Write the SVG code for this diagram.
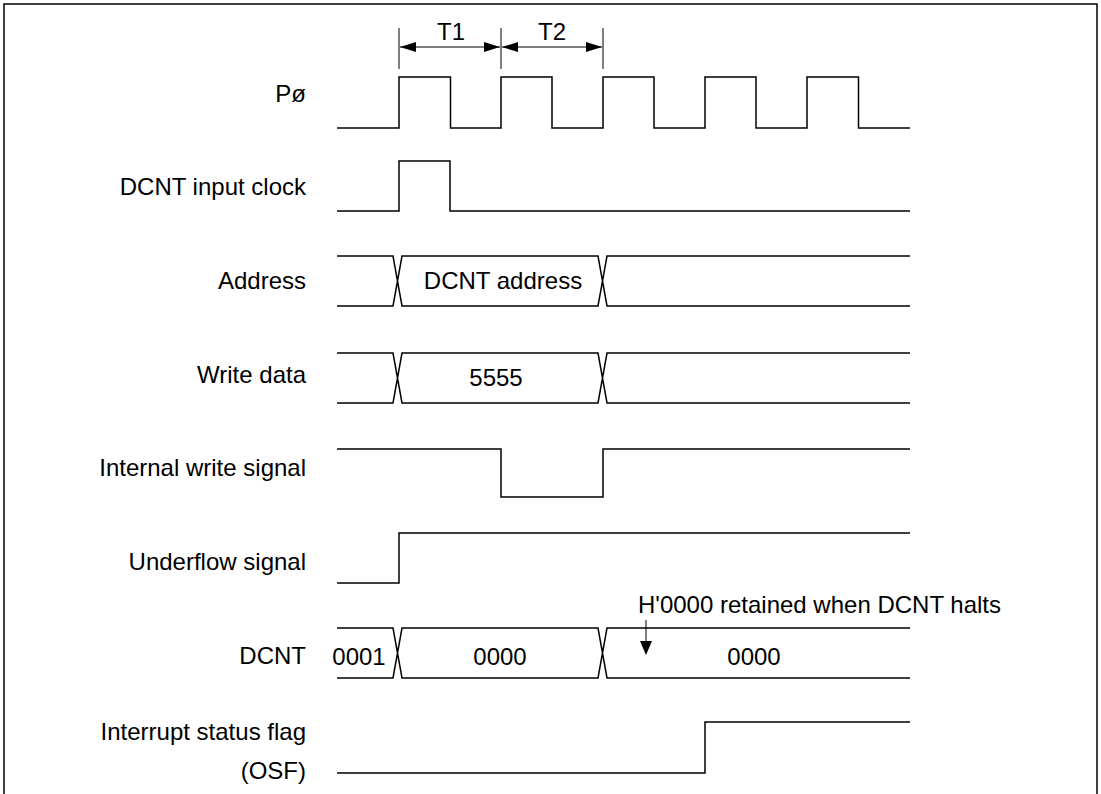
<svg xmlns="http://www.w3.org/2000/svg" width="1101" height="794" viewBox="0 0 1101 794">
<defs>
<style>
.w{fill:none;stroke:#000;stroke-width:1.5;stroke-linejoin:miter}
.t{font-family:"Liberation Sans",Arial,sans-serif;font-size:24px;fill:#000}
.l{text-anchor:end}
.c{text-anchor:middle}
.d{fill:none;stroke:#000;stroke-width:1}
</style>
<marker id="ah" viewBox="0 0 16 10" refX="16" refY="5" markerWidth="16" markerHeight="10" markerUnits="userSpaceOnUse" orient="auto-start-reverse"><path d="M0,0 L16,5 L0,10 Z" fill="#000"/></marker>
</defs>
<rect width="1101" height="794" fill="#fff"/>
<path d="M4,794 V4 H1097 V794" fill="none" stroke="#000" stroke-width="1.5"/>

<g id="timing">
<line class="d" x1="399" y1="28" x2="399" y2="69"/>
<line class="d" x1="501" y1="28" x2="501" y2="69"/>
<line class="d" x1="603" y1="28" x2="603" y2="69"/>
<line class="d" x1="400" y1="47" x2="500" y2="47" marker-start="url(#ah)" marker-end="url(#ah)"/>
<line class="d" x1="502" y1="47" x2="602" y2="47" marker-start="url(#ah)" marker-end="url(#ah)"/>
<text class="t c" x="451" y="40">T1</text>
<text class="t c" x="552" y="40">T2</text>
</g>

<g id="labels">
<text class="t l" x="306" y="102">Pø</text>
<text class="t l" x="306" y="195">DCNT input clock</text>
<text class="t l" x="306" y="289">Address</text>
<text class="t l" x="306" y="383">Write data</text>
<text class="t l" x="306" y="476">Internal write signal</text>
<text class="t l" x="306" y="570">Underflow signal</text>
<text class="t l" x="306" y="664">DCNT</text>
<text class="t l" x="306" y="740">Interrupt status flag</text>
<text class="t l" x="306" y="779">(OSF)</text>
</g>

<g id="p-clock">
<path class="w" d="M337,128 H399 V77 H450.5 V128 H501 V77 H552 V128 H603 V77 H654 V128 H705 V77 H756 V128 H807 V77 H858.5 V128 H910"/>
</g>

<g id="dcnt-input-clock">
<path class="w" d="M337,211 H399 V161 H450 V211 H910"/>
</g>

<g id="address">
<path class="w" d="M337,256 H393 L402,306 H598 L607,256 H910 M337,306 H393 L402,256 H598 L607,306 H910"/>
<text class="t c" x="503" y="289">DCNT address</text>
</g>

<g id="write-data">
<path class="w" d="M337,353 H393 L402,403 H598 L607,353 H910 M337,403 H393 L402,353 H598 L607,403 H910"/>
<text class="t c" x="496" y="386">5555</text>
</g>

<g id="internal-write">
<path class="w" d="M337,449 H501 V497 H603 V449 H910"/>
</g>

<g id="underflow">
<path class="w" d="M337,583 H399 V533 H910"/>
</g>

<g id="dcnt">
<path class="w" d="M337,628 H393 L402,678 H598 L607,628 H910 M337,678 H393 L402,628 H598 L607,678 H910"/>
<text class="t c" x="359" y="665">0001</text>
<text class="t c" x="500" y="665">0000</text>
<text class="t c" x="754" y="665">0000</text>
<text class="t" x="638" y="613">H'0000 retained when DCNT halts</text>
<line class="d" x1="646" y1="620" x2="646" y2="642"/>
<path d="M640,641 L652,641 L646,655 Z" fill="#000"/>
</g>

<g id="osf">
<path class="w" d="M337,773 H705 V722 H910"/>
</g>
</svg>
